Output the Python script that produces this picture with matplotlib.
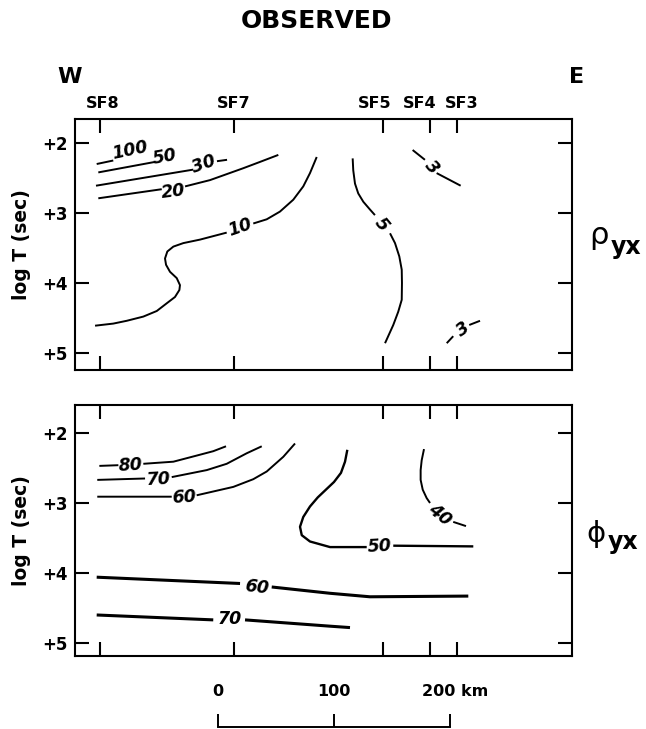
import numpy as np
import matplotlib.pyplot as plt
from matplotlib.transforms import ScaledTranslation

# stations along the profile, km from the scale-bar zero
sf_names = ["SF8", "SF7", "SF5", "SF4", "SF3"]
sf_km = [-101.7, 13.4, 142.2, 182.8, 206.0]
logT_ticks = [2, 3, 4, 5]
logT_labels = ["+2", "+3", "+4", "+5"]
scale_km = [0, 100, 200]
scale_labels = ["0", "100", "200 km"]

# rho_yx contours (None = gap where the label sits)
rho_levels = ["100", "50", "30", "20", "10", "5", "3", "3"]
rho_x = [
    [-104.6, -90.3],
    [-103.2, -54.3],
    [-105.2, -21.3, None, -0.9, 7.8],
    [-103.2, -48.5, None, -28.4, -6.9, 21.8, 36.2, 52.0],
    [-106.0, -90.3, -78.7, -64.4, -52.8, -44.2, -37.1, -33.3, -32.8, -35.6,
     -41.4, -44.8, -45.7, -43.7, -38.5, -29.9, -15.5, 7.5, None,
     30.4, 42.0, 53.4, 64.9, 73.5, 79.3, 85.1],
    [116.1, 116.6, 118.1, 120.9, 125.3, 131.0, 135.3, None,
     148.3, 152.6, 156.3, 158.4, 158.6, 158.4, 155.4, 151.1, 144.0],
    [167.8, 178.4, None, 188.5, 209.2],
    [197.2, 202.8, None, 216.6, 225.9],
]
rho_y = [
    [2.30, 2.25],
    [2.42, 2.27],
    [2.61, 2.38, None, 2.26, 2.24],
    [2.79, 2.66, None, 2.62, 2.53, 2.36, 2.27, 2.17],
    [4.61, 4.58, 4.54, 4.48, 4.40, 4.29, 4.20, 4.10, 4.03, 3.93,
     3.84, 3.74, 3.65, 3.55, 3.48, 3.43, 3.38, 3.28, None,
     3.15, 3.09, 2.98, 2.81, 2.62, 2.43, 2.20],
    [2.22, 2.39, 2.58, 2.72, 2.84, 2.95, 3.03, None,
     3.29, 3.43, 3.62, 3.81, 4.00, 4.24, 4.41, 4.60, 4.86],
    [2.10, 2.24, None, 2.43, 2.61],
    [4.86, 4.76, None, 4.60, 4.54],
]
rho_lab_x = [-75.9, -45.7, -12.1, -38.8, 19.0, 141.1, 184.2, 210.9]
rho_lab_y = [2.10, 2.20, 2.30, 2.70, 3.21, 3.17, 2.35, 4.66]

# phi_yx contours
phi_levels = ["80", "70", "60", "50", "40", "60", "70"]
phi_x = [
    [-102.3, -85.9, None, -64.4, -38.5, -15.5, -4.1, 6.9],
    [-104.1, -62.9, None, -39.9, -9.7, 7.5, 24.7, 37.7],
    [-104.1, -39.9, None, -18.4, 13.2, 30.4, 42.0, 56.3, 66.4],
    [111.5, 109.5, 106.0, 100.0, 93.0, 86.0, 79.3, 73.5, 70.7, 72.2, 79.3,
     96.6, 128.2, None, 151.1, 220.1],
    [177.6, 175.6, 174.7, 174.7, 176.5, 179.9, 182.8, None, 202.8, 213.8],
    [-104.6, 19.0, None, 46.3, 96.6, 131.0, 215.8],
    [-104.6, -4.1, None, 23.3, 96.6, 113.8],
]
phi_y = [
    [2.47, 2.46, None, 2.44, 2.41, 2.31, 2.26, 2.19],
    [2.67, 2.65, None, 2.63, 2.53, 2.44, 2.29, 2.19],
    [2.91, 2.91, None, 2.89, 2.77, 2.66, 2.55, 2.34, 2.15],
    [2.24, 2.41, 2.57, 2.70, 2.81, 2.92, 3.05, 3.20, 3.34, 3.46, 3.55,
     3.63, 3.63, None, 3.61, 3.62],
    [2.23, 2.39, 2.53, 2.67, 2.81, 2.93, 3.00, None, 3.27, 3.33],
    [4.06, 4.15, None, 4.20, 4.29, 4.34, 4.33],
    [4.60, 4.67, None, 4.67, 4.76, 4.78],
]
phi_lab_x = [-75.9, -51.5, -29.1, 139.7, 191.4, 33.4, 10.3]
phi_lab_y = [2.46, 2.66, 2.92, 3.62, 3.17, 4.20, 4.66]

W, H = 646, 729
XLIM = (-123.3, 305.2)
fig = plt.figure(figsize=(W / 100, H / 100), dpi=100)


def setup(ax, ylim, labeltop):
    ax.set_xlim(*XLIM)
    ax.set_ylim(*ylim)
    for s in ax.spines.values():
        s.set_linewidth(1.5)
    ax.set_xticks(sf_km)
    ax.set_yticks(logT_ticks)
    ax.set_yticklabels(logT_labels, fontsize=12, fontweight="bold")
    ax.tick_params(axis="both", direction="in", length=10, width=1.5,
                   top=True, bottom=True, left=True, right=True)
    ax.tick_params(axis="y", pad=5)
    ax.tick_params(axis="x", labelbottom=False, labeltop=labeltop, pad=6)
    if labeltop:
        ax.set_xticklabels(sf_names, fontsize=11.5, fontweight="bold")
        nudge = [2.5, 0, -8, -10, 5]  # px, keeps SF4/SF3 apart
        for lab, dx in zip(ax.get_xticklabels(), nudge):
            lab.set_transform(lab.get_transform() +
                              ScaledTranslation(dx / 100, 0, fig.dpi_scale_trans))
    else:
        ax.set_xticklabels([])


def contours(ax, xs, ys, levels, lx, ly, widths):
    for i in range(len(levels)):
        x = np.array(xs[i], dtype=float)
        y = np.array(ys[i], dtype=float)
        ax.plot(x, y, color="k", lw=widths[i], solid_capstyle="butt",
                solid_joinstyle="round")
        gap = np.where(np.isnan(x))[0]
        if len(gap):
            a, b = gap[0] - 1, gap[0] + 1
        else:
            a, b = -2, -1
        p0 = ax.transData.transform((x[a], y[a]))
        p1 = ax.transData.transform((x[b], y[b]))
        ang = np.degrees(np.arctan2(p1[1] - p0[1], p1[0] - p0[0]))
        if ang > 90:
            ang -= 180
        if ang < -90:
            ang += 180
        ax.text(lx[i], ly[i], levels[i], rotation=ang, rotation_mode="anchor",
                ha="center", va="center", fontsize=12.5, fontweight="bold",
                fontstyle="italic")


# top panel: apparent resistivity
ax1 = fig.add_axes([75 / W, 1 - 370 / H, 497 / W, 251 / H])
setup(ax1, (5.243, 1.657), True)
contours(ax1, rho_x, rho_y, rho_levels, rho_lab_x, rho_lab_y, [1.4] * 8)

# bottom panel: phase
ax2 = fig.add_axes([75 / W, 1 - 656 / H, 497 / W, 251 / H])
setup(ax2, (5.186, 1.6), False)
contours(ax2, phi_x, phi_y, phi_levels, phi_lab_x, phi_lab_y,
         [1.4, 1.4, 1.4, 1.7, 1.4, 2.2, 2.2])

# scale bar
sax = fig.add_axes([75 / W, 0, 497 / W, 51 / H])
sax.set_xlim(*XLIM)
sax.set_ylim(0, 1)
sax.axis("off")
sax.plot([scale_km[0], scale_km[-1]], [0.04, 0.04], color="k", lw=1.4, clip_on=False)
sax.vlines(scale_km, 0.04, 0.29, color="k", lw=1.4, clip_on=False)
for i, (k, t) in enumerate(zip(scale_km, scale_labels)):
    if i == len(scale_km) - 1:
        sax.text(k, 0.745, t, ha="left", va="center", fontsize=11.5, fontweight="bold",
                 transform=sax.transData + ScaledTranslation(-0.28, 0, fig.dpi_scale_trans))
    else:
        sax.text(k, 0.745, t, ha="center", va="center", fontsize=11.5, fontweight="bold")

# titles and side labels
fig.text(316.5 / W, 1 - 21 / H, "OBSERVED", ha="center", va="center",
         fontsize=18, fontweight="bold")
fig.text(70 / W, 1 - 77 / H, "W", ha="center", va="center", fontsize=16, fontweight="bold")
fig.text(577 / W, 1 - 77 / H, "E", ha="center", va="center", fontsize=16, fontweight="bold")
for yc in (244.5, 530.5):
    fig.text(22 / W, 1 - yc / H, "log T (sec)", rotation=90, ha="center", va="center",
             fontsize=13.5, fontweight="bold")
fig.text(599 / W, 1 - 236 / H, "\u03c1", ha="center", va="center", fontsize=22)
fig.text(626 / W, 1 - 247 / H, "yx", ha="center", va="center", fontsize=17, fontweight="bold")
fig.text(595.5 / W, 1 - 533.5 / H, "\u03d5", ha="center", va="center", fontsize=21)
fig.text(623 / W, 1 - 542 / H, "yx", ha="center", va="center", fontsize=17, fontweight="bold")

fig.savefig("out.png", dpi=100)
